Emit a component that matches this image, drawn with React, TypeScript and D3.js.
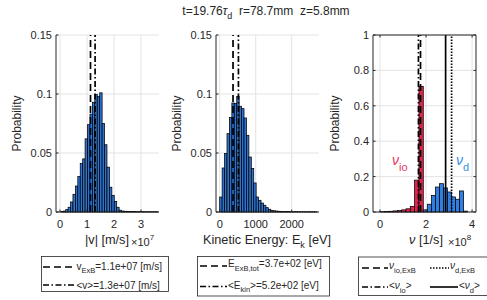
import React from 'react';
import * as d3 from 'd3';

const FONT = '"Liberation Sans", Arial, Helvetica, sans-serif';
const W = 487;
const H = 300;
const TOP = 35;
const BOTTOM = 212;

// ---- Panel 1: |v| histogram (x in units of 1e7 m/s)
const vBinStart = 0.03;
const vBinWidth = 0.09;
const vProb = [
  0.0004, 0.0008, 0.002, 0.004, 0.0085, 0.015, 0.022, 0.03, 0.041, 0.045,
  0.062, 0.074, 0.083, 0.093, 0.0995, 0.098, 0.101, 0.075, 0.057, 0.038,
  0.021, 0.014, 0.009, 0.004, 0.0015, 0.0008, 0.0006, 0.0005, 0.0005, 0.0004,
  0.0004, 0.0003, 0.0003, 0.0003, 0.0003, 0.0002, 0.0002, 0.0002, 0.0002, 0.0002,
];
const vExB = 1.13;
const vMean = 1.3;
const vTicks = [0, 1, 2, 3];

// ---- Panel 2: kinetic energy histogram (eV)
const eBinStart = 0;
const eBinWidth = 67.5;
const eProb = [
  0.0127, 0.0373, 0.0495, 0.0664, 0.08, 0.0924, 0.092, 0.098, 0.0896, 0.0876,
  0.0797, 0.065, 0.0466, 0.0368, 0.0246, 0.0127, 0.0099, 0.0076, 0.0057, 0.0037,
  0.0023, 0.0014, 0.001, 0.0008, 0.0006, 0.0005, 0.0005, 0.0004, 0.0004, 0.0003,
  0.0003, 0.0003, 0.0003, 0.0002, 0.0002, 0.0002, 0.0002, 0.0002, 0.0002, 0.0002,
];
const eExB = 370;
const eKinMean = 520;
const eTicks = [0, 1000, 2000];

// ---- Panel 3: collision frequencies (x in units of 1e8 1/s)
const nuIoBinStart = 0;
const nuIoBinWidth = 0.188;
const nuIoProb = [0.002, 0.003, 0.004, 0.006, 0.008, 0.012, 0.018, 0.032, 0.18, 0.71];
const nuDBinStart = 1.88;
const nuDBinWidth = 0.175;
const nuDProb = [0.012, 0.044, 0.094, 0.141, 0.16, 0.136, 0.113, 0.085, 0.072, 0.119, 0.005];
const nuIoExB = 1.76;
const nuIoMean = 1.67;
const nuDMean = 2.85;
const nuDExB = 3.11;
const nuTicks = [0, 2, 4];

const probTicks = [0, 0.05, 0.1, 0.15];
const probTickLabels = ['0', '0.05', '0.1', '0.15'];
const nuProbTicks = [0, 0.2, 0.4, 0.6, 0.8, 1];
const nuProbTickLabels = ['0', '0.2', '0.4', '0.6', '0.8', '1'];

const BLUE = '#2d74d2';
const BLUE3 = '#2f80e2';
const RED = '#e0244f';
const AX = '#262626';
const GRID = '#e3e3e3';

const DASH = '7,4';
const DASHDOT = '6,2.5,1.5,2.5';
const DOT = '1.5,1.5';

type Series = { data: number[]; start: number; width: number; color: string };
type VLine = { x: number; dash?: string };

function Panel(props: {
  left: number;
  right: number;
  xDomain: [number, number];
  yDomain: [number, number];
  xTicks: number[];
  yTicks: number[];
  yTickLabels: string[];
  series: Series[];
  vlines: VLine[];
  box: boolean;
  ylabelX: number;
}) {
  const { left, right, xDomain, yDomain, xTicks, yTicks, yTickLabels, series, vlines, box, ylabelX } = props;
  const x = d3.scaleLinear().domain(xDomain).range([left, right]);
  const y = d3.scaleLinear().domain(yDomain).range([BOTTOM, TOP]);
  const tl = 2.5;
  return (
    <g fontFamily={FONT}>
      {xTicks.map((t) => (
        <line key={'gx' + t} x1={x(t)} x2={x(t)} y1={TOP} y2={BOTTOM} stroke={GRID} strokeWidth={1} />
      ))}
      {yTicks.map((t) => (
        <line key={'gy' + t} x1={left} x2={right} y1={y(t)} y2={y(t)} stroke={GRID} strokeWidth={1} />
      ))}
      {series.map((s, si) =>
        s.data.map((p, i) => {
          const x0 = x(s.start + i * s.width);
          const x1 = x(s.start + (i + 1) * s.width);
          return (
            <rect
              key={'b' + si + '-' + i}
              x={x0}
              y={y(p)}
              width={x1 - x0}
              height={y(0) - y(p)}
              fill={s.color}
              stroke="#000"
              strokeWidth={0.75}
            />
          );
        })
      )}
      {vlines.map((v, i) => (
        <line
          key={'v' + i}
          x1={x(v.x)}
          x2={x(v.x)}
          y1={y(yDomain[0])}
          y2={y(yDomain[1])}
          stroke="#000"
          strokeWidth={1.7}
          strokeDasharray={v.dash}
        />
      ))}
      {/* axes */}
      <line x1={left} x2={left} y1={TOP} y2={BOTTOM} stroke={AX} strokeWidth={1} />
      <line x1={left} x2={right} y1={BOTTOM} y2={BOTTOM} stroke={AX} strokeWidth={1} />
      {box && <line x1={right} x2={right} y1={TOP} y2={BOTTOM} stroke={AX} strokeWidth={1} />}
      {box && <line x1={left} x2={right} y1={TOP} y2={TOP} stroke={AX} strokeWidth={1} />}
      {yTicks.map((t, i) => (
        <g key={'ty' + t}>
          <line x1={left} x2={left + tl} y1={y(t)} y2={y(t)} stroke={AX} />
          {box && <line x1={right} x2={right - tl} y1={y(t)} y2={y(t)} stroke={AX} />}
          <text x={left - 4} y={y(t) + 4} textAnchor="end" fontSize={11} fill={AX}>
            {yTickLabels[i]}
          </text>
        </g>
      ))}
      {xTicks.map((t) => (
        <g key={'tx' + t}>
          <line x1={x(t)} x2={x(t)} y1={BOTTOM} y2={BOTTOM - tl} stroke={AX} />
          {box && <line x1={x(t)} x2={x(t)} y1={TOP} y2={TOP + tl} stroke={AX} />}
          <text x={x(t)} y={228} textAnchor="middle" fontSize={11} fill={AX}>
            {String(t)}
          </text>
        </g>
      ))}
      <text
        transform={`translate(${ylabelX},${(TOP + BOTTOM) / 2}) rotate(-90)`}
        textAnchor="middle"
        fontSize={12}
        fill={AX}
      >
        Probability
      </text>
    </g>
  );
}

function LegendLine(props: { x1: number; x2: number; y: number; dash?: string }) {
  return (
    <line x1={props.x1} x2={props.x2} y1={props.y} y2={props.y} stroke="#000" strokeWidth={1.6} strokeDasharray={props.dash} />
  );
}

export default function App() {
  const nbsp = '\u00a0';
  return (
    <svg
      width={W}
      height={H}
      viewBox={`0 0 ${W} ${H}`}
      style={{ position: 'absolute', left: 0, top: 0, background: '#fff' }}
      fontFamily={FONT}
    >
      <rect x={0} y={0} width={W} height={H} fill="#fff" />
      {/* title */}
      <text x={266} y={15} textAnchor="middle" fontSize={12} fill={AX}>
        t=19.76
        <tspan fontStyle="italic">τ</tspan>
        <tspan fontSize={9} dy={3.5}>d</tspan>
        <tspan dy={-3.5}>{`${nbsp}${nbsp}r=78.7mm${nbsp}${nbsp}z=5.8mm`}</tspan>
      </text>

      <Panel
        left={56}
        right={159}
        xDomain={[-0.148, 3.667]}
        yDomain={[0, 0.15]}
        xTicks={vTicks}
        yTicks={probTicks}
        yTickLabels={probTickLabels}
        series={[{ data: vProb, start: vBinStart, width: vBinWidth, color: BLUE }]}
        vlines={[
          { x: vExB, dash: DASH },
          { x: vMean, dash: DASHDOT },
        ]}
        box={false}
        ylabelX={21}
      />
      <Panel
        left={216}
        right={319}
        xDomain={[-103, 2758]}
        yDomain={[0, 0.15]}
        xTicks={eTicks}
        yTicks={probTicks}
        yTickLabels={probTickLabels}
        series={[{ data: eProb, start: eBinStart, width: eBinWidth, color: BLUE }]}
        vlines={[
          { x: eExB, dash: DASH },
          { x: eKinMean, dash: DASHDOT },
        ]}
        box={false}
        ylabelX={181}
      />
      <Panel
        left={373}
        right={476}
        xDomain={[-0.304, 4.17]}
        yDomain={[0, 1]}
        xTicks={nuTicks}
        yTicks={nuProbTicks}
        yTickLabels={nuProbTickLabels}
        series={[
          { data: nuIoProb, start: nuIoBinStart, width: nuIoBinWidth, color: RED },
          { data: nuDProb, start: nuDBinStart, width: nuDBinWidth, color: BLUE3 },
        ]}
        vlines={[
          { x: nuIoMean, dash: DASHDOT },
          { x: nuIoExB, dash: DASH },
          { x: nuDMean },
          { x: nuDExB, dash: DOT },
        ]}
        box={true}
        ylabelX={339}
      />

      {/* panel 3 annotations */}
      <text x={392} y={165} fontSize={14} fill="#e8365d">
        <tspan fontStyle="italic">ν</tspan>
        <tspan fontSize={11} dy={6}>io</tspan>
      </text>
      <text x={456} y={165} fontSize={14} fill="#3a8ee8">
        <tspan fontStyle="italic">ν</tspan>
        <tspan fontSize={11} dy={6}>d</tspan>
      </text>

      {/* x labels */}
      <text x={107} y={244} textAnchor="middle" fontSize={12.7} fill={AX}>
        |v| [m/s]
      </text>
      <text x={131} y={246} fontSize={11} fill={AX}>
        ×10<tspan fontSize={8} dy={-6}>7</tspan>
      </text>
      <text x={267} y={244} textAnchor="middle" fontSize={12.7} fill={AX}>
        Kinetic Energy: E<tspan fontSize={9} dy={3.5}>k</tspan>
        <tspan dy={-3.5}>{`${nbsp}[eV]`}</tspan>
      </text>
      <text x={426} y={244} textAnchor="middle" fontSize={12.7} fill={AX}>
        <tspan fontStyle="italic">ν</tspan> [1/s]
      </text>
      <text x={448} y={246} fontSize={11} fill={AX}>
        ×10<tspan fontSize={8} dy={-6}>8</tspan>
      </text>

      {/* legend 1 */}
      <rect x={41.5} y={256.5} width={127} height={35} fill="#fff" stroke={AX} strokeWidth={0.8} />
      <LegendLine x1={43} x2={75} y={267} dash={DASH} />
      <text x={76.5} y={270} fontSize={10} fill={AX}>
        v<tspan fontSize={7.5} dy={3}>ExB</tspan>
        <tspan dy={-3}>=1.1e+07 [m/s]</tspan>
      </text>
      <LegendLine x1={43} x2={75} y={285} dash={DASHDOT} />
      <text x={76.5} y={288.5} fontSize={10} fill={AX}>
        {'<v>=1.3e+07 [m/s]'}
      </text>

      {/* legend 2 */}
      <rect x={197.5} y={256.5} width={132} height={39.5} fill="#fff" stroke={AX} strokeWidth={0.8} />
      <LegendLine x1={200} x2={227} y={266} dash={DASH} />
      <text x={228} y={267} fontSize={10} fill={AX}>
        E<tspan fontSize={7.5} dy={3.5}>ExB,tot</tspan>
        <tspan dy={-3.5}>=3.7e+02 [eV]</tspan>
      </text>
      <LegendLine x1={200} x2={227} y={286.5} dash={DASHDOT} />
      <text x={228} y={288.5} fontSize={10} fill={AX}>
        {'<E'}
        <tspan fontSize={7.5} dy={3.5}>kin</tspan>
        <tspan dy={-3.5}>{'>=5.2e+02 [eV]'}</tspan>
      </text>

      {/* legend 3 */}
      <rect x={358.5} y={257} width={140} height={38.5} fill="#fff" stroke={AX} strokeWidth={0.8} />
      <LegendLine x1={362} x2={388} y={268} dash={DASH} />
      <text x={389} y={269} fontSize={10} fill={AX}>
        <tspan fontStyle="italic">ν</tspan>
        <tspan fontSize={7.5} dy={3.5}>io,ExB</tspan>
      </text>
      <LegendLine x1={430} x2={449} y={268} dash={DOT} />
      <text x={450} y={269} fontSize={10} fill={AX}>
        <tspan fontStyle="italic">ν</tspan>
        <tspan fontSize={7.5} dy={3.5}>d,ExB</tspan>
      </text>
      <LegendLine x1={362} x2={388} y={287} dash={DASHDOT} />
      <text x={389} y={289} fontSize={10} fill={AX}>
        {'<'}
        <tspan fontStyle="italic">ν</tspan>
        <tspan fontSize={7.5} dy={3.5}>io</tspan>
        <tspan dy={-3.5}>{'>'}</tspan>
      </text>
      <LegendLine x1={430} x2={458} y={287} />
      <text x={459} y={289} fontSize={10} fill={AX}>
        {'<'}
        <tspan fontStyle="italic">ν</tspan>
        <tspan fontSize={7.5} dy={3.5}>d</tspan>
        <tspan dy={-3.5}>{'>'}</tspan>
      </text>
    </svg>
  );
}
